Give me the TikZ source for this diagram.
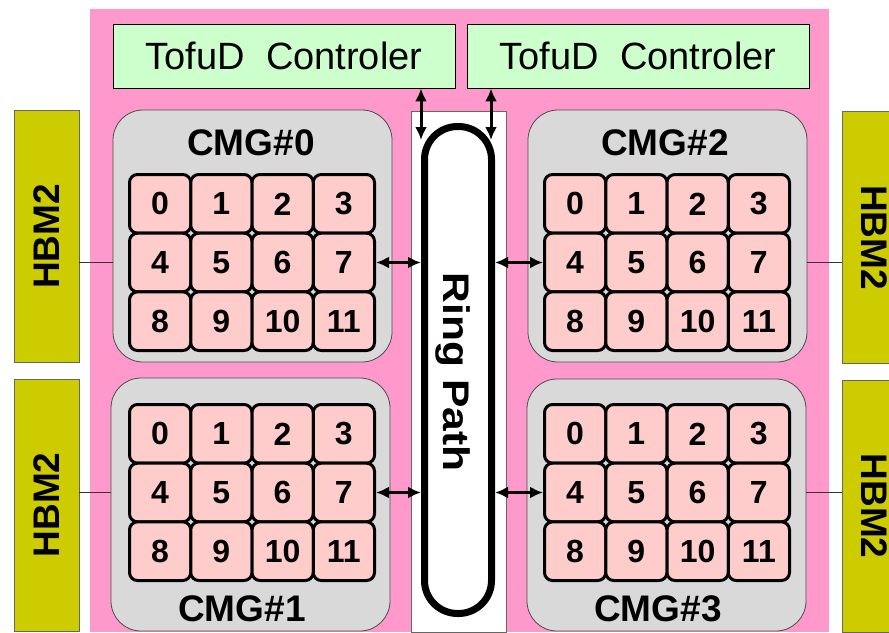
\documentclass[tikz,border=0pt]{standalone}
\usepackage{fontspec}
\setmainfont{Liberation Sans}
\usetikzlibrary{arrows.meta,calc}
\definecolor{Chip}{HTML}{FF99CC}
\definecolor{Mint}{HTML}{CCFFCC}
\definecolor{CmgGray}{HTML}{D9D9D9}
\definecolor{CoreRose}{HTML}{FFCCCC}
\definecolor{Olive}{HTML}{CCCC00}

\begin{document}
\begin{tikzpicture}[x=1pt,y=-1pt,
    ctrl/.style={draw=black,fill=Mint,line width=0.8pt,minimum width=342pt,
      minimum height=64pt,inner sep=0pt,font=\fontsize{38}{40}\selectfont},
    cmg/.style={draw=black!70,fill=CmgGray,line width=0.8pt,rounded corners=30pt,
      minimum width=279pt,minimum height=252pt,inner sep=0pt},
    core/.style={draw=black,fill=CoreRose,line width=3pt,rounded corners=8pt,
      minimum width=61.25pt,minimum height=58.67pt,inner sep=0pt,
      font=\fontsize{32}{34}\selectfont\bfseries},
    hbm/.style={draw=black!60,fill=Olive,line width=0.8pt,minimum width=65pt,
      minimum height=252pt,inner sep=0pt,font=\fontsize{37}{40}\selectfont\bfseries},
    lbl/.style={inner sep=0pt,font=\fontsize{37}{40}\selectfont\bfseries},
    arr/.style={{Latex[length=13pt,width=12pt]}-{Latex[length=13pt,width=12pt]},line width=3pt},
    wire/.style={draw=black!80,line width=0.8pt}]
    \clip (0,0) rectangle (889,632);
    % chip background
    \fill[Chip] (90,9) rectangle (829,632);
    \node[ctrl] (ctrl0) at (284,56) {TofuD\ \ Controler};
    \node[ctrl] (ctrl1) at (638,56) {TofuD\ \ Controler};
    \node[draw=black!60,fill=white,line width=0.8pt,minimum width=95pt,
      minimum height=521pt,inner sep=0pt] (ringbox) at (458.5,371.5) {};
    % core memory groups
    \node[cmg] (cmg0) at (252.5,236) {};
    \node[cmg,minimum height=253pt] (cmg1) at (250.5,504.5) {};
    \node[cmg] (cmg2) at (667.5,236) {};
    \node[cmg,minimum height=252pt] (cmg3) at (666.5,505) {};
    \node[hbm] (hbmL0) at (46.5,236.5) {\rotatebox{90}{HBM2}};
    \node[hbm] (hbmL1) at (46.5,505) {\rotatebox{90}{HBM2}};
    \node[hbm] (hbmR0) at (874.5,237.5) {\rotatebox{-90}{HBM2}\hspace{12pt}};
    \node[hbm] (hbmR1) at (874.5,506) {\rotatebox{-90}{HBM2}\hspace{12pt}};
    \foreach \g/\gx/\gy in {0/129.5/174.5,1/129.5/404.5,2/544.5/174.5,3/544.5/404.5}{
      \foreach \n in {0,...,11}{
        \pgfmathtruncatemacro{\col}{mod(\n,4)}
        \pgfmathtruncatemacro{\row}{div(\n,4)}
        \node[core] (c\g-\n) at ({\gx+61.25*(\col+0.5)},{\gy+58.67*(\row+0.5)}) {\n};
      }
    }
    \node[lbl] (lbl0) at (251,143) {CMG\#0};
    \node[lbl] (lbl1) at (242,609) {CMG\#1};
    \node[lbl] (lbl2) at (665,143) {CMG\#2};
    \node[lbl] (lbl3) at (658,609) {CMG\#3};
    % ring bus
    \node[draw,line width=7pt,rounded corners=33pt,minimum width=67pt,
      minimum height=487pt,inner sep=0pt] (ring) at (458,370) {};
    \node[inner sep=0pt,font=\fontsize{37}{40}\selectfont\bfseries] (ringtxt) at (453,372)
      {\rotatebox{-90}{\scalebox{1.15}[1]{Ring Path}}};
    \coordinate (tapL) at (421,140);
    \coordinate (tapR) at (491,140);
    \draw[wire] (hbmL0.east |- c0-4) -- (cmg0.west |- c0-4);
    \draw[wire] (hbmL1.east |- c1-4) -- (cmg1.west |- c1-4);
    \draw[wire] (cmg2.east |- c2-7) -- (hbmR0.west |- c2-7);
    \draw[wire] (cmg3.east |- c3-7) -- (hbmR1.west |- c3-7);
    \draw[arr] (tapL |- ctrl0.south) -- (tapL);
    \draw[arr] (tapR |- ctrl1.south) -- (tapR);
    \draw[arr] (c0-7.east) -- (c0-7.east -| ring.west);
    \draw[arr] (c1-7.east) -- (c1-7.east -| ring.west);
    \draw[arr] (ring.east |- c2-4) -- (c2-4.west);
    \draw[arr] (ring.east |- c3-4) -- (c3-4.west);
  \end{tikzpicture}
\end{document}
